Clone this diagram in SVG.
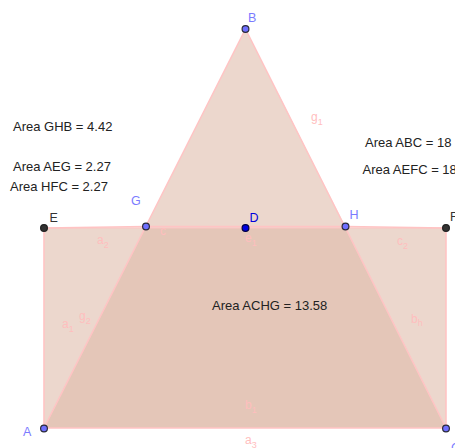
<svg xmlns="http://www.w3.org/2000/svg" width="455" height="448" viewBox="0 0 455 448">
<style>
.poly{fill:rgb(153,51,0);fill-opacity:0.1;stroke:none}
.seg{stroke:rgb(255,196,196);stroke-width:1.6;fill:none;stroke-linecap:round}
.lbl{font-family:"Liberation Sans",Arial,sans-serif;font-size:12px;fill:rgb(255,190,190)}
.sub{font-size:9px}
.txt{font-family:"Liberation Sans",Arial,sans-serif;font-size:13px;fill:#222}
.pl{font-family:"Liberation Sans",Arial,sans-serif;font-size:12.5px}
.free{fill:#6f6fff;stroke:#2a2a3a;stroke-width:1.2}
.dep{fill:#333;stroke:#222;stroke-width:1.2}
.pd{fill:#0000e0;stroke:#000044;stroke-width:1.2}
</style>
<rect width="455" height="448" fill="#fff"/>
<g id="AEFC"><polygon class="poly" points="44,428 44,228 446,228 446,428"/></g>
<g id="ABC"><polygon class="poly" points="44,428 245.5,29 446,428"/></g>
<g id="AEG"><polygon class="poly" points="44,428 44,228 146,226.5"/></g>
<g id="HFC"><polygon class="poly" points="345.5,226.5 446,228 446,428"/></g>
<g id="ACHG"><polygon class="poly" points="44,428 446,428 345.5,226.5 146,226.5"/></g>
<g id="GHB"><polygon class="poly" points="146,226.5 345.5,226.5 245.5,29"/></g>
<g id="connectors">
<line class="seg" x1="44" y1="428" x2="245.5" y2="29"/>
<line class="seg" x1="245.5" y1="29" x2="446" y2="428"/>
<line class="seg" x1="44" y1="428" x2="446" y2="428"/>
<line class="seg" x1="44" y1="428" x2="44" y2="228"/>
<line class="seg" x1="446" y1="428" x2="446" y2="228"/>
<line class="seg" x1="44" y1="228" x2="146" y2="226.5"/>
<line class="seg" x1="146" y1="226.5" x2="345.5" y2="226.5"/>
<line class="seg" x1="345.5" y1="226.5" x2="446" y2="228"/>
<line class="seg" x1="44" y1="228" x2="446" y2="228" stroke-opacity="0.6"/>
</g>
<g id="segment-labels">
<text class="lbl" x="311" y="121">g<tspan class="sub" dy="4">1</tspan></text>
<text class="lbl" x="245" y="242">e<tspan class="sub" dy="4">1</tspan></text>
<text class="lbl" x="160" y="235">c</text>
<text class="lbl" x="97" y="244">a<tspan class="sub" dy="4">2</tspan></text>
<text class="lbl" x="397" y="245">c<tspan class="sub" dy="4">2</tspan></text>
<text class="lbl" x="62" y="328">a<tspan class="sub" dy="4">1</tspan></text>
<text class="lbl" x="79" y="320">g<tspan class="sub" dy="4">2</tspan></text>
<text class="lbl" x="411" y="323">b<tspan class="sub" dy="3">h</tspan></text>
<text class="lbl" x="245" y="409">b<tspan class="sub" dy="4">1</tspan></text>
<text class="lbl" x="245" y="444">a<tspan class="sub" dy="4">3</tspan></text>
</g>
<g id="texts">
<text class="txt" x="13" y="131">Area GHB = 4.42</text>
<text class="txt" x="13" y="171">Area AEG = 2.27</text>
<text class="txt" x="10" y="191">Area HFC = 2.27</text>
<text class="txt" x="365" y="146.5">Area ABC = 18</text>
<text class="txt" x="362.5" y="174">Area AEFC = 18</text>
<text class="txt" x="212" y="310">Area ACHG = 13.58</text>
</g>
<g id="B"><circle class="free" cx="245.5" cy="29" r="3.4"/><text class="pl" x="248" y="22" fill="#7b7bff">B</text></g>
<g id="G"><circle class="free" cx="146" cy="226.5" r="3.4"/><text class="pl" x="131" y="205" fill="#7b7bff">G</text></g>
<g id="H"><circle class="free" cx="345.5" cy="226.5" r="3.4"/><text class="pl" x="349.5" y="219" fill="#7b7bff">H</text></g>
<g id="D"><circle class="pd" cx="245.5" cy="228" r="3.4"/><text class="pl" x="249.5" y="222" fill="#0000dd">D</text></g>
<g id="E"><circle class="dep" cx="44" cy="228" r="3.4"/><text class="pl" x="49.5" y="222" fill="#333">E</text></g>
<g id="F"><circle class="dep" cx="446" cy="228" r="3.4"/><text class="pl" x="450" y="221" fill="#333">F</text></g>
<g id="A"><circle class="free" cx="44" cy="428.5" r="3.4"/><text class="pl" x="23" y="436" fill="#7b7bff">A</text></g>
<g id="C"><circle class="free" cx="446" cy="428.5" r="3.4"/><text class="pl" x="451" y="452" fill="#7b7bff">C</text></g>
</svg>
